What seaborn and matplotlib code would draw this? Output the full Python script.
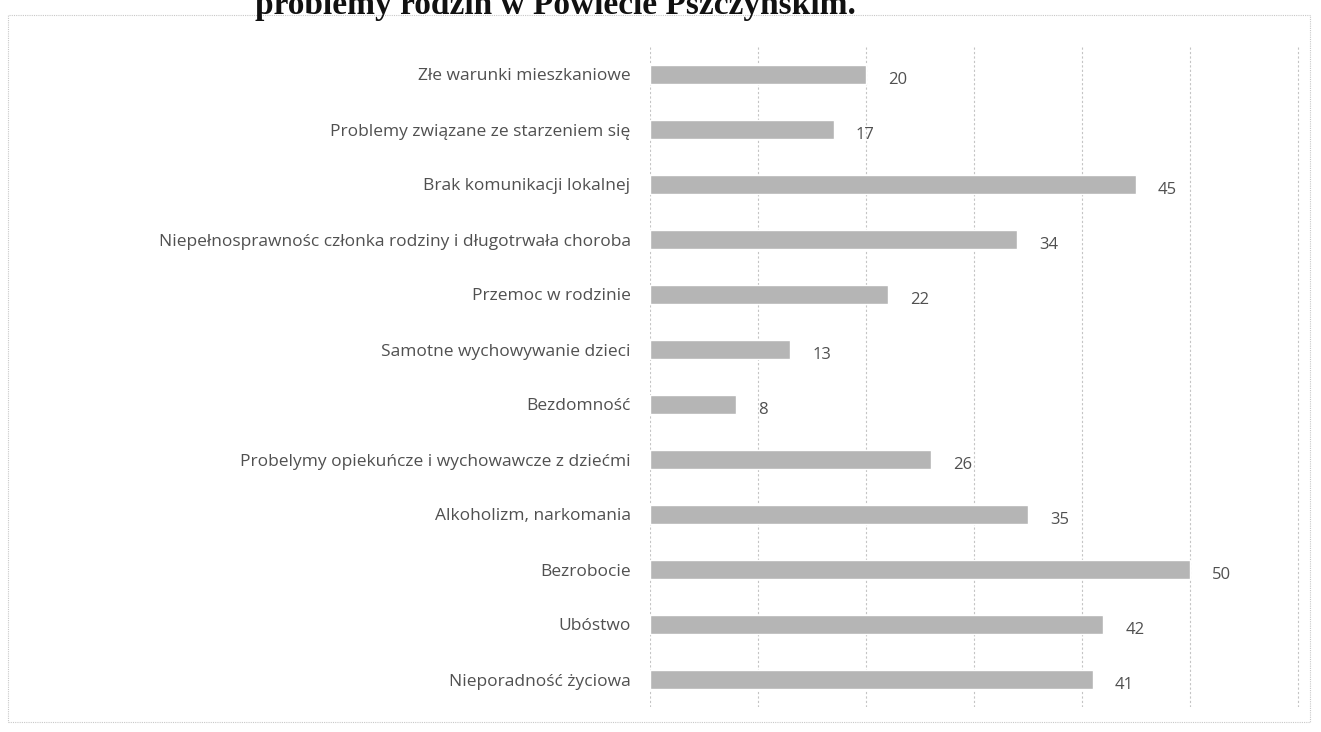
import matplotlib
matplotlib.use('Agg')
import pandas as pd
import seaborn as sns
from matplotlib import pyplot as plt
from matplotlib.patches import Rectangle

categories = [
    'Złe warunki mieszkaniowe',
    'Problemy związane ze starzeniem się',
    'Brak komunikacji lokalnej',
    'Niepełnosprawnośc członka rodziny i długotrwała choroba',
    'Przemoc w rodzinie',
    'Samotne wychowywanie dzieci',
    'Bezdomność',
    'Probelymy opiekuńcze i wychowawcze z dziećmi',
    'Alkoholizm, narkomania',
    'Bezrobocie',
    'Ubóstwo',
    'Nieporadność życiowa',
]
values = [20, 17, 45, 34, 22, 13, 8, 26, 35, 50, 42, 41]
title = 'problemy rodzin w Powiecie Pszczyńskim.'

sns.set_style('white')
plt.rcParams['font.family'] = ['Open Sans', 'DejaVu Sans']

df = pd.DataFrame({'problem': categories, 'count': values})

fig = plt.figure(figsize=(13.21, 7.32), dpi=100)
ax = fig.add_axes([650 / 1321, 1 - 707 / 732, 650 / 1321, 660 / 732])

sns.barplot(data=df, y='problem', x='count', orient='h', color='#b5b5b5',
            width=0.35, saturation=1, ax=ax)

ax.set_xlim(0, 60.2)
ax.set_ylim(11.5, -0.5)
for x in range(0, 61, 10):
    ax.axvline(x, color='#c4c4c4', lw=0.8, ls=(0, (2, 2)), zorder=0)
ax.set_xticks([])
ax.set_xlabel('')
ax.set_ylabel('')
for s in ax.spines.values():
    s.set_visible(False)
ax.tick_params(axis='y', length=0, pad=14, labelsize=12.5, labelcolor='#505050')

for i, v in enumerate(values):
    ax.annotate(str(v), (v, i), xytext=(16, -4), textcoords='offset points',
                va='center', ha='left', fontsize=12, color='#505050')

fig.patches.append(Rectangle((8 / 1321, 1 - 722 / 732), 1302 / 1321, 707 / 732,
                             transform=fig.transFigure, fill=False,
                             edgecolor='#c8c8c8', lw=0.8, ls=(0, (1, 1))))

fig.text(255 / 1321, 0.993, title, family='Liberation Serif', weight='bold',
         fontsize=24, va='center', ha='left', color='#111111')

fig.savefig('out.png', dpi=100)
